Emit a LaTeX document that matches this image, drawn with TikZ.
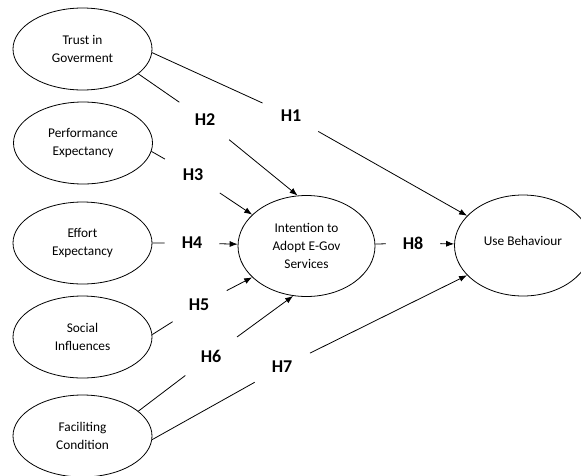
\documentclass[tikz,border=0pt]{standalone}
\usepackage{fontspec}
\setmainfont{Carlito}
\usepackage{tikz}
\usetikzlibrary{shapes,arrows.meta,positioning}
\tikzset{
    construct/.style={
                draw=black,
                line width=0.6pt,
                ellipse,
                align=center,
                inner sep=0pt,
                font=\fontsize{10}{13.7}\selectfont,
                minimum width=104.25pt,
                minimum height=61.5pt
            },
        outcome/.style={
                construct,
                minimum width=102.75pt,
                minimum height=75.75pt
            },
        hypo/.style={
                circle,
                inner sep=0pt,
                font=\fontsize{13.5}{15}\selectfont\bfseries,
                minimum size=46.5pt
            },
        link/.style={
                line width=0.6pt,
                -{Latex[length=6pt,width=4.5pt]}
            },
}

\begin{document}
\begin{tikzpicture}[x=0.75pt,y=-0.75pt]
  \useasboundingbox (0,0) rectangle (581,475);
  % Constructs
  \node[construct] (trust) at (82.5,49) {Trust in\\Goverment};
  \node[construct] (perf) at (83,143) {Performance\\Expectancy};
  \node[construct] (effort) at (82.5,243) {Effort\\Expectancy};
  \node[construct] (social) at (82.5,337) {Social\\Influences};
  \node[construct] (facil) at (82.5,436) {Faciliting\\Condition};
  \node[outcome] (intent) at (306.5,246) {Intention to\\Adopt E-Gov\\Services};
  \node[outcome] (use) at (523,245.5) {\raisebox{7pt}{Use Behaviour}};
  % Hypotheses
  \node[hypo] (h1) at (291,116) {H1};
  \node[hypo] (h2) at (205,120) {H2};
  \node[hypo, minimum size=48pt] (h3) at (193,175) {H3};
  \node[hypo, minimum size=40.5pt] (h4) at (192,243) {H4};
  \node[hypo] (h5) at (199,305) {H5};
  \node[hypo, minimum size=48pt] (h6) at (211,356) {H6};
  \node[hypo] (h7) at (282,367) {H7};
  \node[hypo, minimum size=40.5pt] (h8) at (413,243) {H8};
  % Links
  \draw[link] (trust.-3) -- (h1) -- (use.152);
  \draw[link] (trust.-24) -- (h2) -- (intent.100);
  \draw[link] (perf.-7) -- (h3) -- (intent.150);
  \draw[link] (effort) -- (h4) -- (intent);
  \draw[link] (social.2) -- (h5) -- (intent.210);
  \draw[link] (facil.24) -- (h6) -- (intent.255);
  \draw[link] (facil.-3) -- (h7) -- (use.208);
  \draw[link] (intent) -- (h8) -- (use);
\end{tikzpicture}
\end{document}
